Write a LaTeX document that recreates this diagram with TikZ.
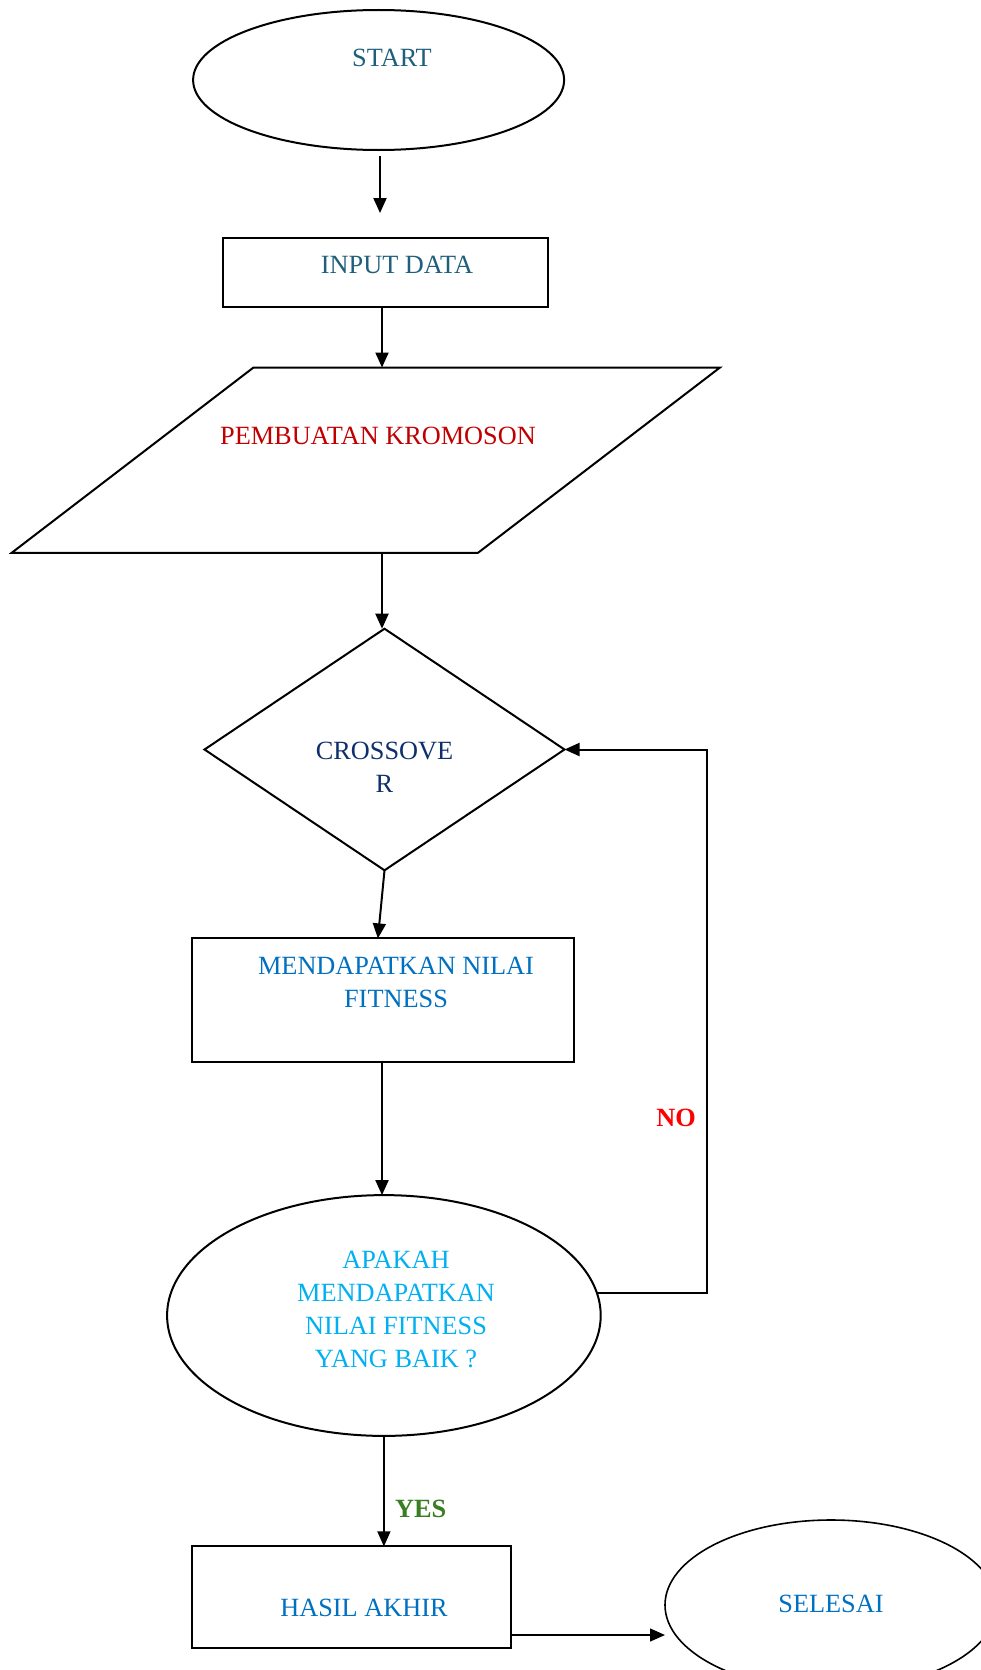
\documentclass[tikz,border=0pt]{standalone}
\usepackage{fontspec}
\setmainfont{Liberation Serif}
\usetikzlibrary{shapes.geometric,arrows.meta}
\definecolor{startcol}{HTML}{1F5F7B}
\definecolor{krcol}{HTML}{C00000}
\definecolor{crosscol}{HTML}{0F2F6B}
\definecolor{fitcol}{HTML}{0070C0}
\definecolor{apcol}{HTML}{00B0F0}
\definecolor{nocol}{HTML}{FF0000}
\definecolor{yescol}{HTML}{3B7D23}
\tikzset{
  shapeline/.style={draw=black,line width=2pt,inner sep=0pt,outer sep=0pt},
  txt/.style={font=\fontsize{26.3}{33}\selectfont,align=center,inner sep=0pt},
  arr/.style={line width=2pt,-{Triangle[length=15pt,width=13pt]}},
  arrthin/.style={line width=1.3pt,-{Triangle[length=15pt,width=13pt]}},
  lbl/.style={font=\fontsize{26.3}{33}\selectfont\bfseries,inner sep=0pt}
}
\begin{document}
\begin{tikzpicture}[x=1pt,y=-1pt]
\useasboundingbox (0,0) rectangle (981,1670);
% shapes
\node[shapeline,ellipse,minimum width=371pt,minimum height=140pt] (start) at (378.6,80) {};
\node[txt,text=startcol] (starttxt) at (392,57.5) {START};
\node[shapeline,rectangle,minimum width=325pt,minimum height=69pt] (input) at (385,272) {};
\node[txt,text=startcol] (inputtxt) at (397,265) {INPUT DATA};
\draw[line width=2pt] (253.5,367.5) -- (720,367.5) -- (478,552.8) -- (11.7,552.8) -- cycle;
\coordinate (pTop) at (382,367.5);
\coordinate (pBot) at (382,552.8);
\node[txt,text=krcol] (krtxt) at (378,435.6) {PEMBUATAN KROMOSON};
\node[shapeline,diamond,minimum width=360pt,minimum height=241.6pt] (cross) at (384.5,749.5) {};
\node[txt,text=crosscol] (crosstxt) at (384.5,767.5) {CROSSOVE\\R};
\node[shapeline,rectangle,minimum width=382.3pt,minimum height=123.6pt] (fit) at (382.9,1000.2) {};
\node[txt,text=fitcol] (fittxt) at (396,982.5) {MENDAPATKAN NILAI\\FITNESS};
\node[shapeline,ellipse,minimum width=433.6pt,minimum height=240.8pt] (ap) at (383.9,1315.5) {};
\node[txt,text=apcol] (aptxt) at (396,1309) {APAKAH\\MENDAPATKAN\\NILAI FITNESS\\YANG BAIK ?};
\node[shapeline,rectangle,minimum width=319.3pt,minimum height=101.2pt] (hasil) at (351.4,1597) {};
\node[txt,text=fitcol] (hasiltxt) at (364,1608) {HASIL AKHIR};
\node[shapeline,line width=1.6pt,ellipse,minimum width=332pt,minimum height=170pt] (sel) at (831,1605) {};
\node[txt,text=fitcol] (seltxt) at (831,1604) {SELESAI};
% connectors
\draw[arr] ([yshift=-5.5pt]start.south -| 380,0) -- ++(0,57.5);
\draw[arr] (pTop |- input.south) -- (pTop);
\draw[arr] (pBot) -- (pBot |- cross.north);
\draw[arr] (cross.south) -- ([xshift=-5pt]fit.north);
\draw[arr] (pBot |- fit.south) -- (pBot |- ap.north);
\coordinate (noc) at (707.2,1292);
\draw[arr] (ap.6) -- (ap.6 -| noc) |- (cross.east);
\node[lbl,text=nocol] (no) at (676,1118) {NO};
\draw[arrthin] (ap.south) -- (ap.south |- hasil.north);
\node[lbl,text=yescol] (yes) at (420.7,1509) {YES};
\draw[arrthin] ([yshift=-38pt]hasil.east) -- ([yshift=-38pt]hasil.east -| sel.west);
\end{tikzpicture}
\end{document}
